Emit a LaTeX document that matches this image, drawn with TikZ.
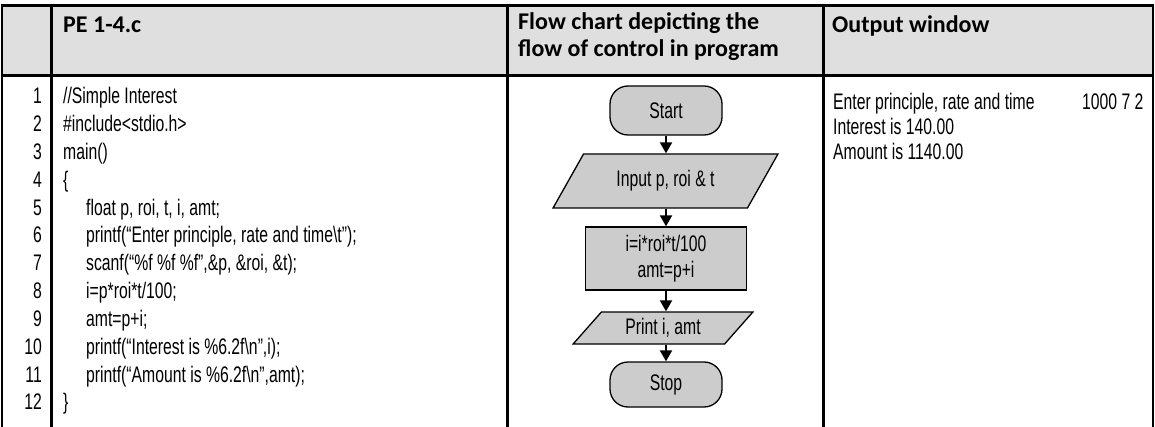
\documentclass[tikz,border=0pt]{standalone}
\usepackage{fontspec}
\usetikzlibrary{shapes.geometric,arrows.meta}
\newfontfamily\codefont[FakeStretch=0.7]{Liberation Sans}
\newfontfamily\headfont{Carlito}
\definecolor{headgray}{HTML}{DFDFDF}
\definecolor{boxgray}{HTML}{CCCCCC}

\begin{document}
\begin{tikzpicture}[x=1pt,y=-1pt,
  rule/.style={line width=2.8pt},
  head/.style={font=\headfont\bfseries\fontsize{24}{28}\selectfont, anchor=base west, inner sep=0pt},
  code/.style={font=\codefont\fontsize{22.5}{26}\selectfont, anchor=base west, inner sep=0pt},
  lnum/.style={font=\codefont\fontsize{22.5}{26}\selectfont, anchor=base east, inner sep=0pt},
  chart/.style={draw, line width=1.3pt, fill=boxgray, font=\codefont\fontsize{22.5}{26}\selectfont, inner sep=0pt},
  terminal/.style={chart, rectangle, rounded corners=18pt, minimum width=112pt},
  io/.style={chart, trapezium, trapezium stretches=true},
  flow/.style={line width=2pt, -{Triangle[length=11pt,width=12pt]}}
]
\useasboundingbox (0,0) rectangle (1155,427);
\fill[white] (0,0) rectangle (1155,427);

% header band
\fill[headgray] (2,5.5) rectangle (1153,75.7);

% table rules
\draw[rule] (0.6,5.5) -- (1154.4,5.5);
\draw[rule] (2,5.5) -- (2,427);
\draw[rule] (1153,5.5) -- (1153,427);
\draw[rule] (2,75.7) -- (1153,75.7);
\draw[rule] (51.3,5.5) -- (51.3,427);
\draw[rule] (507.3,5.5) -- (507.3,427);
\draw[rule] (823.3,5.5) -- (823.3,427);

% headings
\node[head] (hcode) at (63,33) {PE 1-4.c};
\node[head] (hflow1) at (518,30) {Flow chart depicting the};
\node[head] (hflow2) at (518,57) {flow of control in program};
\node[head] (hout) at (832,33) {Output window};

% line numbers
\node[lnum] (n1)  at (42,104)   {1};
\node[lnum] (n2)  at (42,131.8) {2};
\node[lnum] (n3)  at (42,159.6) {3};
\node[lnum] (n4)  at (42,187.4) {4};
\node[lnum] (n5)  at (42,215.2) {5};
\node[lnum] (n6)  at (42,243)   {6};
\node[lnum] (n7)  at (42,270.8) {7};
\node[lnum] (n8)  at (42,298.6) {8};
\node[lnum] (n9)  at (42,326.4) {9};
\node[lnum] (n10) at (42,354.2) {10};
\node[lnum] (n11) at (42,382)   {11};
\node[lnum] (n12) at (42,409.8) {12};

% program text
\node[code] (c1)  at (63,104)   {//Simple Interest};
\node[code] (c2)  at (63,131.8) {\#include<stdio.h>};
\node[code] (c3)  at (63,159.6) {main()};
\node[code] (c4)  at (63,187.4) {\{};
\node[code] (c5)  at (86,215.2) {float p, roi, t, i, amt;};
\node[code] (c6)  at (86,243)   {printf(“Enter principle, rate and time\textbackslash t”);};
\node[code] (c7)  at (86,270.8) {scanf(“\%f \%f \%f”,\&p, \&roi, \&t);};
\node[code] (c8)  at (86,298.6) {i=p*roi*t/100;};
\node[code] (c9)  at (86,326.4) {amt=p+i;};
\node[code] (c10) at (86,354.2) {printf(“Interest is \%6.2f\textbackslash n”,i);};
\node[code] (c11) at (86,382)   {printf(“Amount is \%6.2f\textbackslash n”,amt);};
\node[code] (c12) at (63,409.8) {\}};

% flow chart
\node[terminal, minimum height=49pt] (start) at (666,110.5) {Start};
\node[io, minimum width=225pt, minimum height=54pt,
      trapezium left angle=49, trapezium right angle=131] (inp) at (665.5,181) {Input p, roi \& t};
\node[chart, rectangle, minimum width=161pt, minimum height=63pt, align=center] (calc) at (666,258.5)
      {i=i*roi*t/100\\amt=p+i};
\node[io, minimum width=180pt, minimum height=32pt,
      trapezium left angle=48, trapezium right angle=132] (prt) at (663,328) {Print i, amt};
\node[terminal, minimum height=45pt] (stop) at (666,384.5) {Stop};

\draw[flow] (start.south) -- (start.south |- inp.north);
\draw[flow] (start.south |- inp.south) -- (calc.north);
\draw[flow] (calc.south) -- (calc.south |- prt.north);
\draw[flow] (calc.south |- prt.south) -- (stop.north);

% output window
\node[code] (o1) at (833,110) {Enter principle, rate and time};
\node[code] (o1v) at (1082,110) {1000 7 2};
\node[code] (o2) at (833,135) {Interest is 140.00};
\node[code] (o3) at (833,160) {Amount is 1140.00};
\end{tikzpicture}
\end{document}
